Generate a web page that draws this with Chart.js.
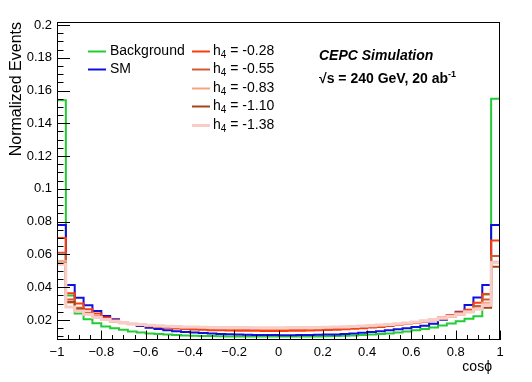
<!DOCTYPE html>
<html>
<head>
<meta charset="utf-8">
<script src="https://cdn.jsdelivr.net/npm/chart.js@4.4.0/dist/chart.umd.min.js"></script>
<style>
  html, body { margin: 0; padding: 0; background: #fff; }
  #chart { display: block; }
</style>
</head>
<body>
<canvas id="chart" width="532" height="382"></canvas>
<script>
(function () {
    "use strict";

    // Histogram range (50 bins between -1 and 1)
    var binLow = -1, binHigh = 1;

    // Normalized events per bin
    var background = [0.154, 0.035, 0.024, 0.0205, 0.018, 0.016, 0.015, 0.014, 0.013, 0.0123, 0.0118, 0.0114, 0.0111, 0.0108, 0.0106, 0.0104, 0.0103, 0.0102, 0.0101, 0.0100, 0.0100, 0.0099, 0.0099, 0.0099, 0.0099,
        0.0099, 0.0099, 0.0099, 0.0100, 0.0100, 0.0101, 0.0102, 0.0104, 0.0106, 0.0108, 0.0111, 0.0114, 0.0118, 0.0124, 0.0130, 0.0137, 0.0145, 0.0155, 0.0166, 0.0178, 0.0193, 0.0207, 0.0223, 0.0355, 0.155];
    var sm = [0.078, 0.0414, 0.0335, 0.029, 0.0255, 0.0225, 0.0205, 0.0188, 0.0175, 0.0163, 0.0153, 0.0145, 0.0138, 0.0132, 0.0127, 0.0123, 0.012, 0.0117, 0.0115, 0.0113, 0.0111, 0.011, 0.0109, 0.0108, 0.0108,
        0.0107, 0.0107, 0.0108, 0.0109, 0.011, 0.0111, 0.0112, 0.0114, 0.0118, 0.0122, 0.0127, 0.0132, 0.0137, 0.0143, 0.0149, 0.0157, 0.0165, 0.0177, 0.0202, 0.0228, 0.025, 0.0292, 0.0338, 0.0414, 0.078];
    var h4m028 = [0.070, 0.0363, 0.030, 0.0265, 0.024, 0.0215, 0.0198, 0.0185, 0.0176, 0.0168, 0.0162, 0.0157, 0.0152, 0.0148, 0.0145, 0.0142, 0.014, 0.0138, 0.0137, 0.0136, 0.0135, 0.0134, 0.0134, 0.0133, 0.0133,
        0.0133, 0.0134, 0.0135, 0.0136, 0.0137, 0.0139, 0.0141, 0.0143, 0.0146, 0.015, 0.0154, 0.0158, 0.0163, 0.0169, 0.0176, 0.0184, 0.0193, 0.0203, 0.0215, 0.023, 0.0247, 0.0263, 0.0305, 0.0359, 0.0685];
    var h4m055 = [0.061, 0.0325, 0.0275, 0.0245, 0.0222, 0.0205, 0.0192, 0.0182, 0.0175, 0.0169, 0.0164, 0.016, 0.0157, 0.0155, 0.0153, 0.0151, 0.015, 0.0149, 0.0148, 0.0148, 0.0147, 0.0147, 0.0147, 0.0146, 0.0146,
        0.0146, 0.0147, 0.0147, 0.0148, 0.0149, 0.015, 0.0151, 0.0153, 0.0155, 0.0157, 0.016, 0.0163, 0.0167, 0.0172, 0.0177, 0.0183, 0.019, 0.0198, 0.0208, 0.022, 0.0235, 0.025, 0.0285, 0.0325, 0.059];
    var h4m083 = [0.056, 0.0305, 0.026, 0.0235, 0.0215, 0.02, 0.0189, 0.018, 0.0174, 0.0169, 0.0165, 0.0161, 0.0158, 0.0156, 0.0154, 0.0153, 0.0152, 0.0151, 0.015, 0.015, 0.0149, 0.0149, 0.0149, 0.0148, 0.0148,
        0.0148, 0.0149, 0.0149, 0.015, 0.0151, 0.0152, 0.0153, 0.0155, 0.0157, 0.0159, 0.0162, 0.0165, 0.0169, 0.0173, 0.0178, 0.0184, 0.0191, 0.0199, 0.0209, 0.022, 0.0233, 0.0248, 0.027, 0.0305, 0.0555];
    var h4m110 = [0.0545, 0.031, 0.0265, 0.024, 0.022, 0.0204, 0.0192, 0.0183, 0.0176, 0.017, 0.0166, 0.0162, 0.0159, 0.0157, 0.0156, 0.0155, 0.0154, 0.0153, 0.0153, 0.0152, 0.0152, 0.0152, 0.0151, 0.0151, 0.0151,
        0.0151, 0.0152, 0.0152, 0.0153, 0.0153, 0.0154, 0.0155, 0.0157, 0.0159, 0.0161, 0.0164, 0.0167, 0.0171, 0.0176, 0.0181, 0.0187, 0.0194, 0.0202, 0.0212, 0.0224, 0.0238, 0.0255, 0.0268, 0.0275, 0.0525];
    var h4m138 = [0.054, 0.028, 0.0255, 0.0235, 0.0217, 0.0203, 0.0192, 0.0184, 0.0177, 0.0172, 0.0168, 0.0165, 0.0162, 0.016, 0.0158, 0.0157, 0.0156, 0.0155, 0.0155, 0.0154, 0.0154, 0.0154, 0.0153, 0.0153, 0.0153,
        0.0153, 0.0154, 0.0154, 0.0155, 0.0155, 0.0156, 0.0157, 0.0159, 0.0161, 0.0163, 0.0166, 0.0169, 0.0173, 0.0177, 0.0182, 0.0188, 0.0195, 0.0203, 0.0212, 0.0223, 0.0236, 0.025, 0.0265, 0.029, 0.055];

    var h4Values = ["-0.28", "-0.55", "-0.83", "-1.10", "-1.38"];

    // Axis ticks
    var xTicks = [-1, -0.8, -0.6, -0.4, -0.2, 0, 0.2, 0.4, 0.6, 0.8, 1];
    var xTickLabels = ["\u22121", "\u22120.8", "\u22120.6", "\u22120.4", "\u22120.2", "0", "0.2", "0.4", "0.6", "0.8", "1"];
    var yTicks = [0.02, 0.04, 0.06, 0.08, 0.1, 0.12, 0.14, 0.16, 0.18, 0.2];
    var yTickLabels = ["0.02", "0.04", "0.06", "0.08", "0.1", "0.12", "0.14", "0.16", "0.18", "0.2"];

    var FONT = "'Liberation Sans', Arial, Helvetica, sans-serif";

    // bin contents -> step outline points
    function toSteps(values) {
        var w = (binHigh - binLow) / values.length;
        var pts = [{x: binLow, y: values[0]}];
        values.forEach(function (v, i) { pts.push({x: binLow + (i + 1) * w, y: v}); });
        return pts;
    }

    var series = [
        {label: "Background", data: background, color: "#22cc33", width: 2},
        {label: "SM", data: sm, color: "#1010dd", width: 2},
        {label: "h4 = " + h4Values[0], data: h4m028, color: "#ff3b0c", width: 2},
        {label: "h4 = " + h4Values[1], data: h4m055, color: "#cf5a34", width: 2},
        {label: "h4 = " + h4Values[2], data: h4m083, color: "#f6a47e", width: 2},
        {label: "h4 = " + h4Values[3], data: h4m110, color: "#a3441a", width: 2},
        {label: "h4 = " + h4Values[4], data: h4m138, color: "#f8cdc8", width: 3}
    ];

    // Frame with ROOT style inner ticks
    var frameTicks = {
        id: "frameTicks",
        afterDatasetsDraw: function (chart) {
            var ctx = chart.ctx, a = chart.chartArea;
            var xs = chart.scales.x, ys = chart.scales.y;
            ctx.save();
            ctx.strokeStyle = "#000";
            ctx.lineWidth = 1;
            ctx.beginPath();
            var k, v, p, len;
            for (k = 0; k <= 40; k++) {
                v = k * 0.005;
                if (v < ys.min || v > ys.max) continue;
                p = Math.round(ys.getPixelForValue(v)) + 0.5;
                len = (k % 4 === 0) ? 13 : 6.5;
                ctx.moveTo(a.left, p);
                ctx.lineTo(a.left + len, p);
            }
            for (k = -20; k <= 20; k++) {
                v = k * 0.05;
                p = Math.round(xs.getPixelForValue(v)) + 0.5;
                len = (k % 4 === 0) ? 9.5 : 5;
                ctx.moveTo(p, a.bottom);
                ctx.lineTo(p, a.bottom - len);
            }
            ctx.stroke();
            ctx.strokeRect(Math.round(a.left) + 0.5, Math.round(a.top) + 0.5,
                Math.round(a.right - a.left) - 1, Math.round(a.bottom - a.top) - 1);
            ctx.restore();
        }
    };

    function drawH4(ctx, x, y, value) {
        ctx.font = "14px " + FONT;
        ctx.fillText("h", x, y);
        x += ctx.measureText("h").width;
        ctx.font = "10px " + FONT;
        ctx.fillText("4", x, y + 4);
        x += ctx.measureText("4").width;
        ctx.font = "14px " + FONT;
        ctx.fillText(" = " + value, x, y);
    }

    // Titles, legend and labels
    var decorations = {
        id: "decorations",
        afterDraw: function (chart) {
            var ctx = chart.ctx, a = chart.chartArea;
            ctx.save();
            ctx.fillStyle = "#000";

            // y title
            ctx.save();
            ctx.translate(21, a.top);
            ctx.rotate(-Math.PI / 2);
            ctx.font = "16px " + FONT;
            ctx.textAlign = "right";
            ctx.textBaseline = "alphabetic";
            ctx.fillText("Normalized Events", 0, 0);
            ctx.restore();

            // x title
            ctx.font = "14px " + FONT;
            ctx.textAlign = "right";
            ctx.textBaseline = "alphabetic";
            ctx.fillText("cos\u03d5", a.right - 8, 371);

            // legend
            ctx.textAlign = "left";
            ctx.textBaseline = "middle";
            var ds = chart.data.datasets;
            for (var i = 0; i < ds.length; i++) {
                var col = i < 2 ? 0 : 1;
                var row = i < 2 ? i : i - 2;
                var lx = col === 0 ? 88 : 192;
                var ly = Math.round(50.5 + row * 18.6);
                ctx.strokeStyle = ds[i].borderColor;
                ctx.lineWidth = ds[i].borderWidth;
                ctx.beginPath();
                ctx.moveTo(lx, ly + 0.5);
                ctx.lineTo(lx + 18, ly + 0.5);
                ctx.stroke();
                ctx.fillStyle = "#000";
                if (i < 2) {
                    ctx.font = "14px " + FONT;
                    ctx.fillText(ds[i].label, lx + 22, ly);
                } else {
                    drawH4(ctx, lx + 21, ly, h4Values[i - 2]);
                }
            }

            // CEPC labels
            ctx.textBaseline = "alphabetic";
            ctx.font = "italic bold 14px " + FONT;
            ctx.fillText("CEPC Simulation", 319, 60);
            ctx.font = "bold 14px " + FONT;
            var t = "\u221as = 240 GeV, 20 ab";
            ctx.fillText(t, 319, 83);
            var w = ctx.measureText(t).width;
            ctx.font = "bold 9px " + FONT;
            ctx.fillText("-1", 319 + w, 77);
            ctx.restore();
        }
    };

    var ctx1 = document.getElementById("chart").getContext("2d");
    var myChart = new Chart(ctx1, {
        type: "line",
        data: {
            datasets: series.map(function (s, i) {
                return {
                    label: s.label,
                    data: toSteps(s.data),
                    borderColor: s.color,
                    borderWidth: s.width,
                    stepped: "after",
                    fill: false,
                    pointRadius: 0,
                    order: series.length - i
                };
            })
        },
        options: {
            responsive: false,
            animation: false,
            events: [],
            layout: {padding: {top: 22, right: 32, left: 0, bottom: 0}},
            plugins: {legend: {display: false}, tooltip: {enabled: false}},
            scales: {
                x: {
                    type: "linear",
                    min: -1,
                    max: 1,
                    grid: {display: false, drawTicks: false},
                    border: {display: false},
                    afterFit: function (s) { s.height = 42; },
                    afterBuildTicks: function (s) { s.ticks = xTicks.map(function (v) { return {value: v}; }); },
                    ticks: {
                        padding: 5,
                        autoSkip: false,
                        maxRotation: 0,
                        color: "#000",
                        font: {family: FONT, size: 13},
                        callback: function (v, i) { return xTickLabels[i]; }
                    }
                },
                y: {
                    type: "linear",
                    min: 0.0078,
                    max: 0.2018,
                    grid: {display: false, drawTicks: false},
                    border: {display: false},
                    afterFit: function (s) { s.width = 57; },
                    afterBuildTicks: function (s) { s.ticks = yTicks.map(function (v) { return {value: v}; }); },
                    ticks: {
                        padding: 5,
                        color: "#000",
                        font: {family: FONT, size: 13},
                        callback: function (v, i) { return yTickLabels[i]; }
                    }
                }
            }
        },
        plugins: [frameTicks, decorations]
    });
})();
</script>
</body>
</html>
